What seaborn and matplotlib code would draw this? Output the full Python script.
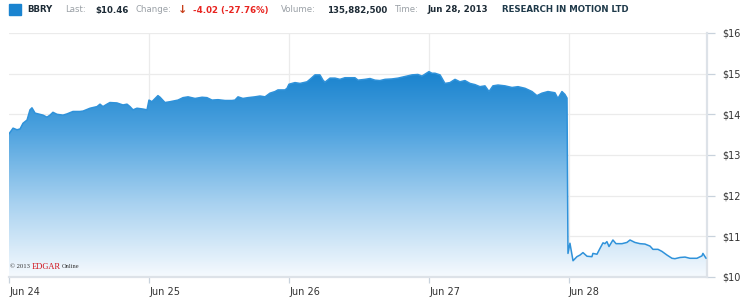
import numpy as np
import pandas as pd
import matplotlib
matplotlib.use("Agg")
import matplotlib.pyplot as plt
from matplotlib.colors import LinearSegmentedColormap
import seaborn as sns

# ---- data (day offset from Jun 24 open, price) ----
day_pos = [0.000, 0.029, 0.057, 0.079, 0.100, 0.129, 0.150, 0.164, 0.186, 0.221,
           0.243, 0.271, 0.293, 0.314, 0.343, 0.386, 0.414, 0.457, 0.507, 0.529,
           0.579, 0.629, 0.650, 0.671, 0.700, 0.721, 0.771, 0.814, 0.843, 0.864,
           0.886, 0.914, 0.957, 0.986,
           1.000, 1.021, 1.064, 1.079, 1.114, 1.150, 1.207, 1.243, 1.279, 1.329,
           1.379, 1.414, 1.450, 1.493, 1.543, 1.593, 1.614, 1.636, 1.671, 1.707,
           1.757, 1.793, 1.829, 1.864, 1.900, 1.921, 1.971, 1.986,
           2.000, 2.043, 2.079, 2.129, 2.150, 2.186, 2.221, 2.243, 2.257, 2.293,
           2.329, 2.364, 2.400, 2.471, 2.493, 2.543, 2.579, 2.614, 2.650, 2.686,
           2.736, 2.779, 2.829, 2.879, 2.921, 2.950,
           3.000, 3.021, 3.043, 3.079, 3.114, 3.150, 3.186, 3.221, 3.257, 3.293,
           3.329, 3.364, 3.400, 3.429, 3.457, 3.493, 3.543, 3.593, 3.636, 3.686,
           3.736, 3.771, 3.807, 3.850, 3.900, 3.921, 3.950, 3.971, 3.986,
           3.993, 4.007, 4.029, 4.057, 4.079, 4.100, 4.129, 4.164, 4.171, 4.200,
           4.221, 4.243, 4.257, 4.271, 4.286, 4.314, 4.336, 4.379, 4.414, 4.436,
           4.471, 4.507, 4.543, 4.579, 4.600, 4.636, 4.664, 4.700, 4.736, 4.757,
           4.793, 4.829, 4.864, 4.914, 4.950, 4.957, 4.979]
price = [13.52, 13.66, 13.62, 13.64, 13.78, 13.86, 14.11, 14.16, 14.03, 14.00,
         13.98, 13.93, 13.98, 14.05, 14.00, 13.98, 14.01, 14.07, 14.07, 14.08,
         14.15, 14.19, 14.25, 14.19, 14.25, 14.29, 14.28, 14.23, 14.25, 14.19,
         14.11, 14.15, 14.13, 14.11,
         14.35, 14.31, 14.46, 14.42, 14.29, 14.31, 14.35, 14.41, 14.43, 14.39,
         14.42, 14.41, 14.35, 14.36, 14.34, 14.34, 14.35, 14.43, 14.39, 14.41,
         14.43, 14.45, 14.43, 14.52, 14.56, 14.60, 14.60, 14.64,
         14.74, 14.78, 14.76, 14.80, 14.86, 14.97, 14.97, 14.84, 14.79, 14.89,
         14.89, 14.86, 14.90, 14.90, 14.84, 14.86, 14.88, 14.84, 14.83, 14.86,
         14.87, 14.89, 14.93, 14.97, 14.98, 14.94,
         15.05, 15.01, 15.01, 14.97, 14.76, 14.78, 14.86, 14.80, 14.83, 14.76,
         14.73, 14.68, 14.70, 14.56, 14.70, 14.72, 14.70, 14.66, 14.68, 14.64,
         14.56, 14.46, 14.52, 14.56, 14.53, 14.39, 14.56, 14.49, 14.40,
         10.58, 10.83, 10.40, 10.50, 10.54, 10.60, 10.51, 10.50, 10.58, 10.56,
         10.70, 10.84, 10.82, 10.87, 10.75, 10.91, 10.82, 10.82, 10.85, 10.91,
         10.85, 10.82, 10.81, 10.76, 10.68, 10.68, 10.63, 10.54, 10.46, 10.45,
         10.48, 10.49, 10.46, 10.46, 10.52, 10.58, 10.46]

day_labels = ["Jun 24", "Jun 25", "Jun 26", "Jun 27", "Jun 28"]
price_ticks = [10, 11, 12, 13, 14, 15, 16]
price_labels = ["$10", "$11", "$12", "$13", "$14", "$15", "$16"]

df = pd.DataFrame({"day": day_pos, "price": price})

sns.set_style("white")
plt.rcParams['font.family'] = ['DejaVu Sans']

W, H = 750, 304
fig = plt.figure(figsize=(W / 100, H / 100), dpi=100)
x0, x1, yt, yb = 9, 707, 33, 277
ax = fig.add_axes([x0 / W, (H - yb) / H, (x1 - x0) / W, (yb - yt) / H])

ax.set_xlim(0, 4.986)
ax.set_ylim(10, 16)

# grid
for p in price_ticks[1:]:
    ax.axhline(p, color="#ebebeb", lw=0.9, zorder=0)
for d in range(1, 5):
    ax.axvline(d, color="#ebebeb", lw=0.9, zorder=0)

# gradient fill
poly = ax.fill_between(df["day"], df["price"], 10, color="none", lw=0)
cmap = LinearSegmentedColormap.from_list(
    "g", [(0.0, "#f6fafe"), (0.35, "#a9d2f0"), (0.7, "#4fa3df"), (1.0, "#1681cd")])
grad = np.linspace(0, 1, 256).reshape(-1, 1)
im = ax.imshow(grad, aspect="auto", cmap=cmap, origin="lower",
               extent=(0, 4.986, 10, 15.1), zorder=1)
path = poly.get_paths()[0]
im.set_clip_path(path, transform=ax.transData)

sns.lineplot(data=df, x="day", y="price", ax=ax, color="#2f92da", lw=1.1, zorder=3)

ax.set_xlabel("")
ax.set_ylabel("")
for s in ["left", "top"]:
    ax.spines[s].set_visible(False)
ax.spines["right"].set_color("#dde2e8")
ax.spines["right"].set_linewidth(1.6)
ax.spines["bottom"].set_color("#dde2e8")
ax.spines["bottom"].set_linewidth(1.6)

ax.yaxis.tick_right()
ax.set_yticks(price_ticks)
ax.set_yticklabels(price_labels)
ax.set_xticks(range(5))
ax.set_xticklabels(day_labels, ha="left")
ax.tick_params(axis="y", length=6, width=0.9, color="#c8d2dc", labelsize=7,
               labelcolor="#333333", pad=5, right=True, left=False)
ax.tick_params(axis="x", length=4, width=0.9, color="#c8d2dc", labelsize=7,
               labelcolor="#333333", pad=3, bottom=True)

# header
def px(x, y):
    return x / W, 1 - y / H

fig.patches.append(plt.Rectangle(px(9, 15), 12 / W, 11 / H, transform=fig.transFigure,
                                 color="#1a84d0", zorder=5))
hy = 10
dark = "#1d2b36"
grey = "#9aa0a6"
fs = 6.2
fig.text(*px(27, hy), "BBRY", fontsize=fs, weight="bold", color=dark, va="center")
fig.text(*px(65, hy), "Last:", fontsize=fs, color=grey, va="center")
fig.text(*px(95, hy), "$10.46", fontsize=fs, weight="bold", color=dark, va="center")
fig.text(*px(136, hy), "Change:", fontsize=fs, color=grey, va="center")
fig.text(*px(178, hy), "\u2193", fontsize=8, weight="bold", color="#c8401c", va="center")
fig.text(*px(193, hy), "-4.02 (-27.76%)", fontsize=fs, weight="bold", color="#e8231f", va="center")
fig.text(*px(281, hy), "Volume:", fontsize=fs, color=grey, va="center")
fig.text(*px(327, hy), "135,882,500", fontsize=fs, weight="bold", color=dark, va="center")
fig.text(*px(395, hy), "Time:", fontsize=fs, color=grey, va="center")
fig.text(*px(428, hy), "Jun 28, 2013", fontsize=fs, weight="bold", color=dark, va="center")
fig.text(*px(502, hy), "RESEARCH IN MOTION LTD", fontsize=fs, weight="bold",
         color="#1f3a4a", va="center")

# copyright (placed piece by piece using measured widths)
renderer = fig.canvas.get_renderer()
cx = 10
for txt, size, col in [("\u00a9 2013 ", 4.8, "#333333"), ("EDGAR", 6.0, "#d0121b"),
                       ("Online", 4.6, "#333333")]:
    t = fig.text(*px(cx, 267), txt, fontsize=size, family="Liberation Serif",
                 color=col, va="baseline" if False else "center")
    bb = t.get_window_extent(renderer=renderer)
    cx += bb.width + 0.5

fig.savefig("out.png", dpi=100, facecolor="white")
